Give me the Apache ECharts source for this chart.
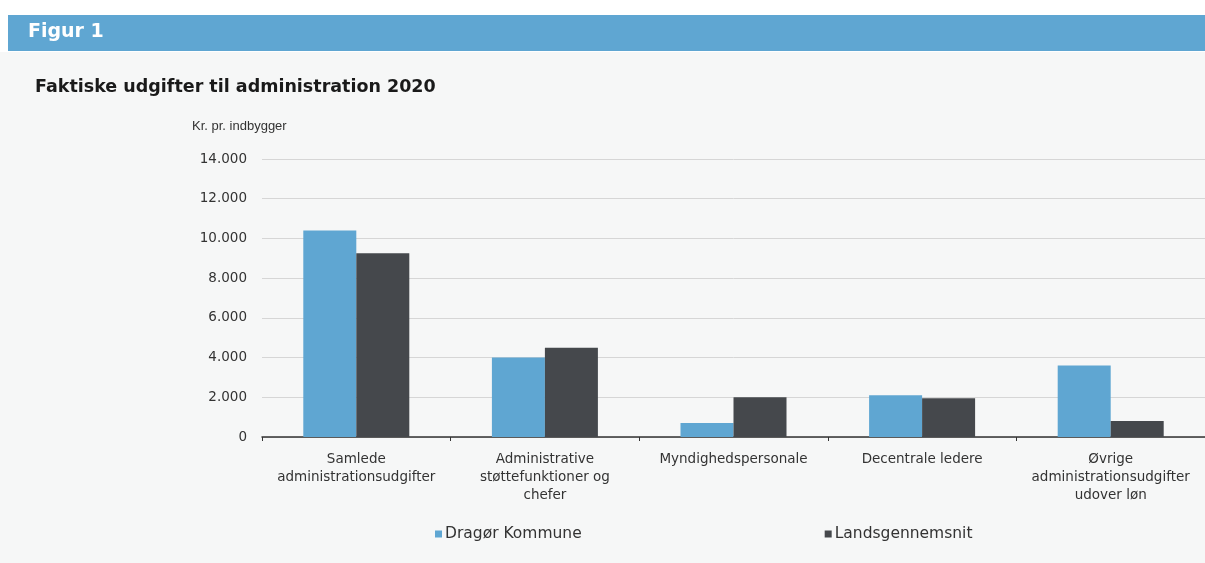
<!DOCTYPE html>
<html><head><meta charset="utf-8">
<script src="https://cdn.jsdelivr.net/npm/echarts@6/dist/echarts.min.js"></script>
<style>html,body{margin:0;padding:0;background:#fff}#c{width:1205px;height:563px}</style>
</head><body><div id="c"></div>
<script>
const categories = ["Samlede\nadministrationsudgifter", "Administrative\nstøttefunktioner og\nchefer", "Myndighedspersonale", "Decentrale ledere", "Øvrige\nadministrationsudgifter\nudover løn"];
const seriesNames = ["Dragør Kommune", "Landsgennemsnit"];
const dragoer = [10400, 4000, 700, 2100, 3600];
const lands = [9250, 4500, 2000, 1950, 800];
const yTicks = [0, 2000, 4000, 6000, 8000, 10000, 12000, 14000];

const chart = echarts.init(document.getElementById('c'));
const font = "'DejaVu Sans', sans-serif";
const font2 = "'Liberation Sans', Arial, sans-serif";
chart.setOption({
  animation: false,
  textStyle: { fontFamily: font },
  graphic: [
    { type: 'rect', shape: { x: 0, y: 52, width: 1205, height: 511 }, style: { fill: '#f6f7f7' }, z: -10 },
    { type: 'rect', shape: { x: 8, y: 15, width: 1197, height: 36 }, style: { fill: '#5fa6d2' } },
    { type: 'text', left: 28, top: 23, style: { text: 'Figur 1', fill: '#ffffff', font: 'bold 19px ' + font } },
    { type: 'text', left: 35, top: 78, style: { text: 'Faktiske udgifter til administration 2020', fill: '#1a1a1a', font: 'bold 17.5px ' + font } },
    { type: 'text', left: 192, top: 120, style: { text: 'Kr. pr. indbygger', fill: '#333', font: '13px ' + font2 } }
  ],
  legend: {
    bottom: 16, left: 430, itemGap: 243, itemWidth: 7, itemHeight: 7, icon: 'rect',
    textStyle: { fontSize: 15.5, color: '#333', padding: [0, 0, 0, -2] },
    data: seriesNames
  },
  grid: { left: 262, top: 159, width: 950, height: 278 },
  xAxis: {
    type: 'category', data: categories,
    axisLine: { lineStyle: { color: '#333', width: 1.5 } },
    axisTick: { show: true, length: 4, lineStyle: { color: '#333' } },
    axisLabel: { interval: 0, fontSize: 13.5, color: '#333', lineHeight: 18, margin: 13 }
  },
  yAxis: {
    type: 'value', min: 0, max: 14000, interval: 2000,
    axisLine: { show: false }, axisTick: { show: false },
    splitLine: { lineStyle: { color: '#d6d6d6' } },
    axisLabel: { fontSize: 13.5, color: '#333', margin: 15, formatter: v => v.toLocaleString('da-DK') }
  },
  series: [
    { name: seriesNames[0], type: 'bar', data: dragoer, barWidth: 53, barGap: '0%', itemStyle: { color: '#5fa6d2' } },
    { name: seriesNames[1], type: 'bar', data: lands, barWidth: 53, barGap: '0%', itemStyle: { color: '#45484c' } }
  ]
});
</script></body></html>
